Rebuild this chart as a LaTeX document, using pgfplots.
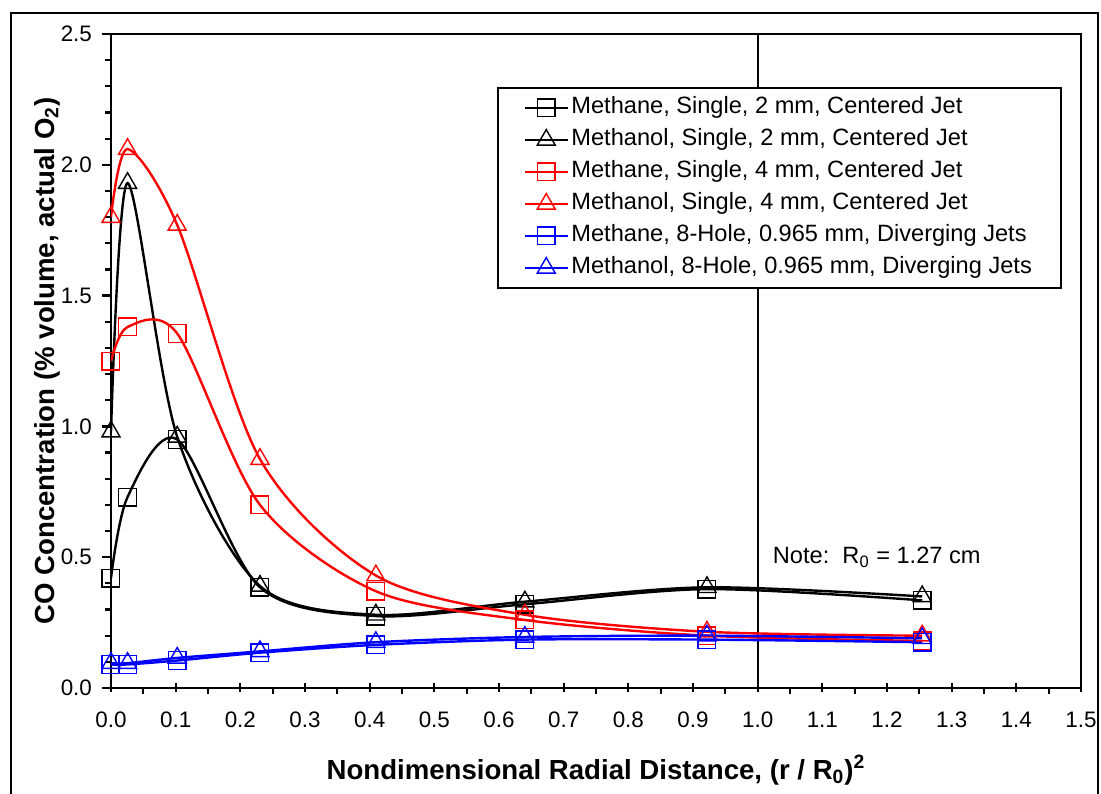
\documentclass[border=0pt]{standalone}
\usepackage{fontspec}
\setmainfont{Liberation Sans}
\usepackage{pgfplots}
\pgfplotsset{compat=1.18}
\definecolor{xlred}{RGB}{255,0,0}
\definecolor{xlblue}{RGB}{0,0,255}
\begin{document}
\begin{tikzpicture}
\useasboundingbox (-55.5pt,-52.5pt) rectangle (495pt,344pt);
\draw[line width=1.25pt] (-50pt,-80pt) -- (-50pt,337.5pt) -- (493.5pt,337.5pt) -- (493.5pt,-80pt);
\begin{axis}[
  at={(0pt,0pt)}, anchor=south west,
  scale only axis, width=485pt, height=327pt,
  xmin=0, xmax=1.5, ymin=0, ymax=2.5,
  xtick={0,0.1,0.2,0.3,0.4,0.5,0.6,0.7,0.8,0.9,1.0,1.1,1.2,1.3,1.4,1.5},
  ytick={0,0.5,1.0,1.5,2.0,2.5},
  minor x tick num=1, minor y tick num=4,
  tick pos=left, tick align=outside,
  major tick length=4.5pt, minor tick length=3pt,
  major x tick style={yshift=2.5pt},
  axis line style={line width=1.25pt},
  every tick/.style={black, line width=1.1pt},
  /pgf/number format/assume math mode=true,
  tick label style={font=\fontsize{11.2}{13}\selectfont},
  xticklabel style={/tikz/yshift=-4pt, /pgf/number format/.cd, fixed, fixed zerofill, precision=1},
  yticklabel style={/tikz/xshift=-1.5pt, /pgf/number format/.cd, fixed, fixed zerofill, precision=1},
  xlabel={Nondimensional Radial Distance, (r / R\textsubscript{0})\textsuperscript{2}},
  ylabel={CO Concentration (\% volume, actual O\textsubscript{2})},
  every axis x label/.style={at={(rel axis cs:0.5,0)}, yshift=-41pt, anchor=center, font=\fontsize{13.8}{16}\selectfont\bfseries},
  every axis y label/.style={at={(rel axis cs:0,0.5)}, xshift=-32pt, rotate=90, anchor=center, font=\fontsize{13.8}{16}\selectfont\bfseries},
  legend cell align=left,
  legend style={at={(rel axis cs:0.398,0.919)}, anchor=north west, draw=black, line width=1pt, fill=white,
    font=\fontsize{11.8}{14}\selectfont, inner xsep=13pt, inner ysep=2pt, row sep=0pt,
    nodes={inner xsep=1.5pt, inner ysep=2pt, text height=9pt, text depth=3pt}},
  legend image code/.code={\draw[mark repeat=2,mark phase=2,#1] plot coordinates {(0pt,0pt) (10.5pt,0pt) (21pt,0pt)};},
  every axis plot/.append style={line width=1.2pt, smooth},
]
\addplot[forget plot, black, line width=1pt, sharp plot] coordinates {(1,0) (1,2.5)};
\addplot[black, mark=square, mark size=4.4pt, mark options={line width=0.7pt, solid}] coordinates {
(0,0.42) (0.0256,0.73) (0.1024,0.95) (0.2304,0.385) (0.4096,0.275) (0.64,0.32) (0.9216,0.378) (1.2544,0.335)};
\addlegendentry{Methane, Single, 2 mm, Centered Jet}
\addplot[black, mark=triangle, mark size=5.2pt, mark options={line width=0.7pt, solid}] coordinates {
(0,0.98) (0.0256,1.93) (0.1024,0.96) (0.2304,0.39) (0.4096,0.28) (0.64,0.33) (0.9216,0.385) (1.2544,0.35)};
\addlegendentry{Methanol, Single, 2 mm, Centered Jet}
\addplot[xlred, mark=square, mark size=4.4pt, mark options={line width=0.7pt, solid}] coordinates {
(0,1.25) (0.0256,1.38) (0.1024,1.355) (0.2304,0.70) (0.4096,0.37) (0.64,0.26) (0.9216,0.20) (1.2544,0.18)};
\addlegendentry{Methane, Single, 4 mm, Centered Jet}
\addplot[xlred, mark=triangle, mark size=5.2pt, mark options={line width=0.7pt, solid}] coordinates {
(0,1.80) (0.0256,2.06) (0.1024,1.77) (0.2304,0.875) (0.4096,0.43) (0.64,0.28) (0.9216,0.215) (1.2544,0.20)};
\addlegendentry{Methanol, Single, 4 mm, Centered Jet}
\addplot[xlblue, mark=square, mark size=4.4pt, mark options={line width=0.7pt, solid}] coordinates {
(0,0.09) (0.0256,0.09) (0.1024,0.105) (0.2304,0.135) (0.4096,0.165) (0.64,0.185) (0.9216,0.185) (1.2544,0.175)};
\addlegendentry{Methane, 8-Hole, 0.965 mm, Diverging Jets}
\addplot[xlblue, mark=triangle, mark size=5.2pt, mark options={line width=0.7pt, solid}] coordinates {
(0,0.095) (0.0256,0.095) (0.1024,0.115) (0.2304,0.14) (0.4096,0.175) (0.64,0.195) (0.9216,0.20) (1.2544,0.19)};
\addlegendentry{Methanol, 8-Hole, 0.965 mm, Diverging Jets}
\node[anchor=west, font=\fontsize{11.8}{14}\selectfont, inner sep=0pt] at (axis cs:1.023,0.50) {Note:\ \ R\textsubscript{0} = 1.27 cm};
\end{axis}
\end{tikzpicture}
\end{document}
